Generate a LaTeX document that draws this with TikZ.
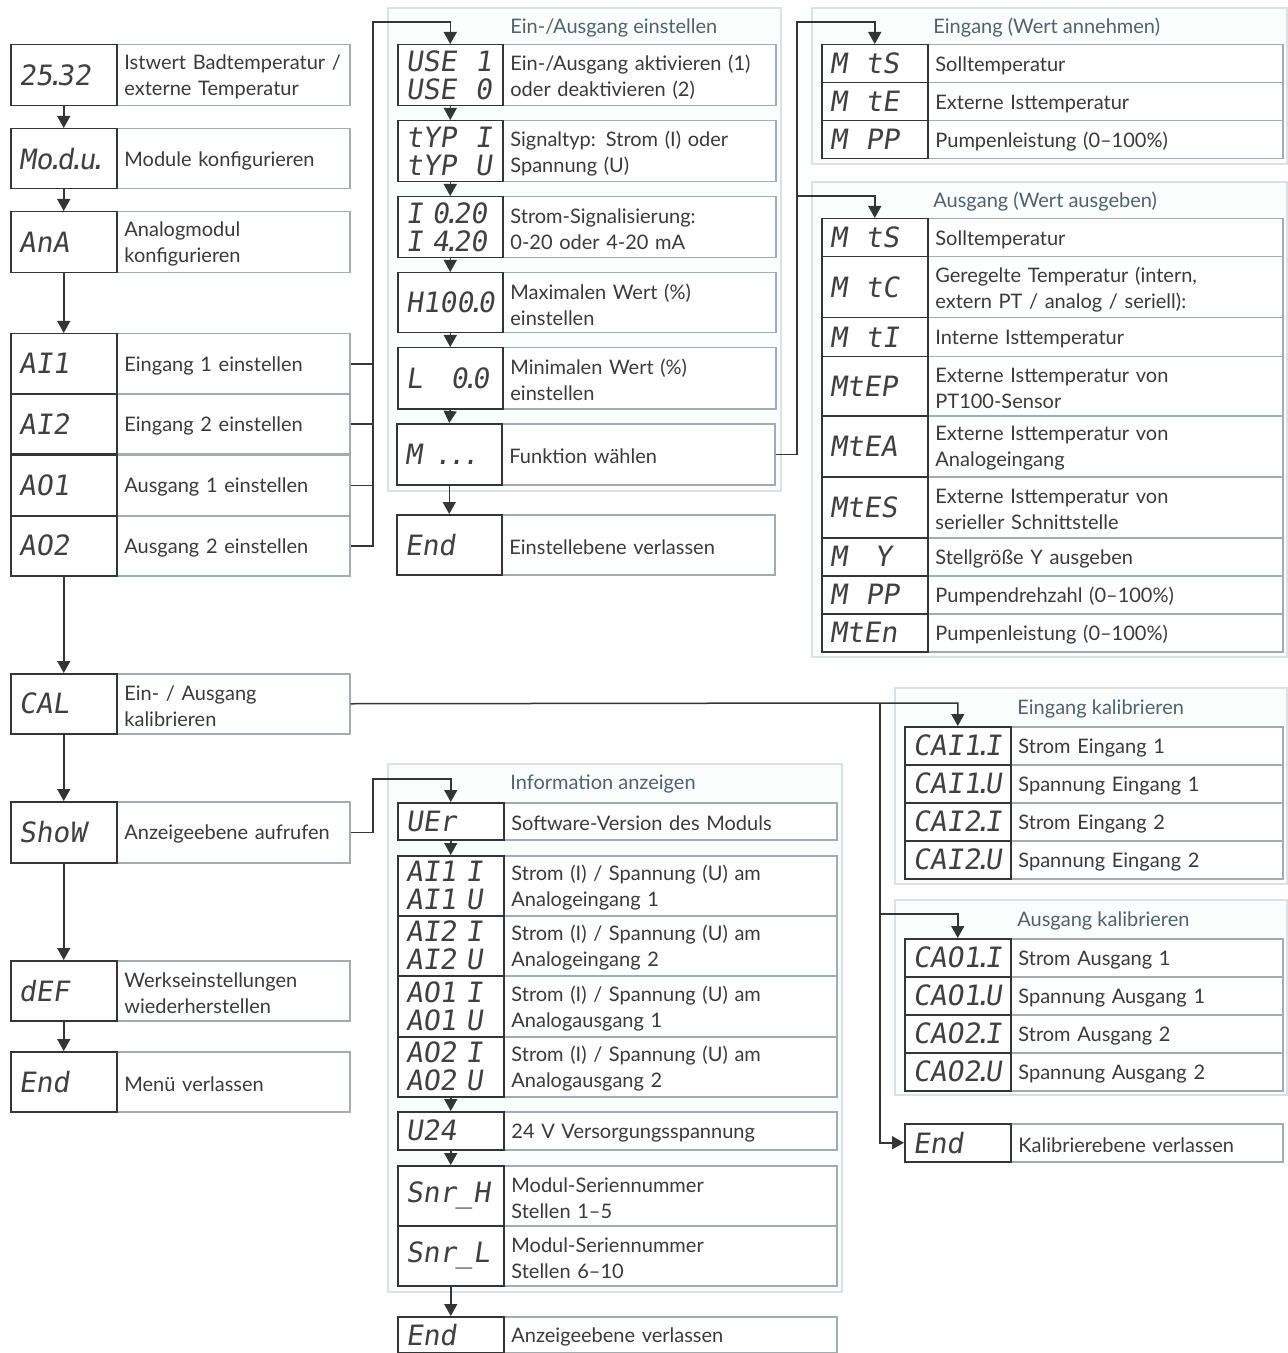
\documentclass[tikz,border=0pt]{standalone}
\usepackage{fontspec}
\setmainfont{Lato}
\newfontfamily\segf{DejaVu Sans Mono}[FakeSlant=0.15]
\usetikzlibrary{arrows.meta}
\definecolor{dark}{HTML}{353535}
\definecolor{segc}{HTML}{404040}
\definecolor{txt}{HTML}{3A3A3A}
\definecolor{greyb}{HTML}{A3ABB0}
\definecolor{ttl}{HTML}{52626C}
\definecolor{pline}{HTML}{DCE1E4}
\definecolor{pfill}{HTML}{FBFCFC}
\newcommand\dd{\kern-0.22em.\kern-0.22em}
\newcommand\bx[7]{%
  \pgfmathsetmacro\bxw{(#4-#2)*0.5-8}%
  \pgfmathsetmacro\bxh{(#5-#3)*0.5}%
  \node[#6, anchor=north west, text width=\bxw pt, minimum height=\bxh pt] (#1) at (#2,#3) {#7};}
\newcommand\dx[7]{%
  \pgfmathsetmacro\bxw{(#4-#2)*0.5}%
  \pgfmathsetmacro\bxh{(#5-#3)*0.5}%
  \pgfmathsetmacro\txw{(#4-#2)*0.5-8}%
  \node[descbox, anchor=north west, minimum width=\bxw pt, minimum height=\bxh pt] (#1) at (#2,#3) {};
  \node[desc, anchor=west, text width=\txw pt] (#1l) at ([yshift=-1pt]#1.west) {#7};}
\newcommand\rw[8]{\dx{#1t}{#3}{#5}{#4}{#6}{}{#8}\bx{#1}{#2}{#5}{#3}{#6}{disp}{#7}}
\begin{document}
\begin{tikzpicture}[x=0.5pt,y=-0.5pt,
  disp/.style={draw=dark, line width=0.75pt, fill=white, inner xsep=4pt, inner ysep=0pt, align=left,
    font=\segf\fontsize{14}{14}\selectfont, text=segc},
  descbox/.style={draw=greyb, line width=0.75pt, fill=white, inner sep=0pt},
  desc/.style={inner xsep=4pt, inner ysep=0pt, align=left,
    font=\fontsize{10}{13}\selectfont, text=txt},
  panel/.style={draw=pline, fill=pfill, line width=1pt},
  ttlst/.style={anchor=west, inner sep=0pt, text=ttl, font=\fontsize{10}{13}\selectfont},
  ln/.style={draw=dark, line width=0.75pt},
  arr/.style={draw=dark, line width=0.75pt, -{Triangle[width=6.5pt,length=6pt]}}]
\useasboundingbox (0,0) rectangle (1288,1353);
\fill[white] (0,0) rectangle (1288,1353);

% panels
\draw[panel] (388,8) rectangle (781,491);
\draw[panel] (812,8) rectangle (1287,164);
\draw[panel] (812,182) rectangle (1287,657);
\draw[panel] (895,688) rectangle (1287,884);
\draw[panel] (895,900) rectangle (1287,1095);
\draw[panel] (388,764) rectangle (842,1292);
\node[ttlst] (T1) at (510,28) {Ein-/Ausgang einstellen};
\node[ttlst] (T2) at (933,28) {Eingang (Wert annehmen)};
\node[ttlst] (T3) at (933,202) {Ausgang (Wert ausgeben)};
\node[ttlst] (T4) at (1017,709) {Eingang kalibrieren};
\node[ttlst] (T5) at (1017,921) {Ausgang kalibrieren};
\node[ttlst] (T6) at (510,784) {Information anzeigen};

% left column
\rw{L1}{10}{116}{349}{44}{105}{25\dd32}{Istwert Badtemperatur /\\externe Temperatur}
\rw{L2}{10}{116}{349}{128}{188}{Mo\dd d\dd u\dd}{Module konfigurieren}
\rw{L3}{10}{116}{349}{211}{272}{AnA}{Analogmodul\\konfigurieren}
\rw{L4}{10}{116}{349}{333}{393}{AI1}{Eingang 1 einstellen}
\rw{L5}{10}{116}{349}{393}{453}{AI2}{Eingang 2 einstellen}
\rw{L6}{10}{116}{349}{454}{515}{AO1}{Ausgang 1 einstellen}
\rw{L7}{10}{116}{349}{515}{575}{AO2}{Ausgang 2 einstellen}
\rw{L8}{10}{116}{349}{673}{733}{CAL}{Ein- / Ausgang\\kalibrieren}
\rw{L9}{10}{116}{349}{801}{862}{ShoW}{Anzeigeebene aufrufen}
\rw{L10}{10}{116}{349}{960}{1020}{dEF}{Werkseinstellungen\\wiederherstellen}
\rw{L11}{10}{116}{349}{1051}{1111}{End}{Menü verlassen}

% middle column
\rw{M1}{397}{502}{775}{44}{105}{USE~~1\\USE~~0}{Ein-/Ausgang aktivieren (1)\\oder deaktivieren (2)}
\rw{M2}{397}{502}{775}{120}{181}{tYP~~I\\tYP~~U}{Signaltyp: Strom (I) oder\\Spannung (U)}
\rw{M3}{397}{502}{775}{196}{257}{I~0\dd20\\I~4\dd20}{Strom-Signalisierung:\\0-20 oder 4-20 mA}
\rw{M4}{397}{502}{775}{272}{332}{H100\dd0}{Maximalen Wert (\%)\\einstellen}
\rw{M5}{397}{502}{775}{347}{408}{L~~~0\dd0}{Minimalen Wert (\%)\\einstellen}
\rw{M6}{396}{501}{774}{423}{484}{M~~\dd~\dd~\dd}{Funktion wählen}
\rw{M7}{396}{501}{774}{514}{574}{End}{Einstellebene verlassen}

% Eingang (Wert annehmen)
\rw{E1}{821}{927}{1282}{44}{82}{M~~tS}{Solltemperatur}
\rw{E2}{821}{927}{1282}{82}{120}{M~~tE}{Externe Isttemperatur}
\rw{E3}{821}{927}{1282}{120}{158}{M~~PP}{Pumpenleistung (0--100\%)}

% Ausgang (Wert ausgeben)
\rw{A1}{821}{927}{1282}{218}{256}{M~~tS}{Solltemperatur}
\rw{A2}{821}{927}{1282}{256}{317}{M~~tC}{Geregelte Temperatur (intern,\\extern PT / analog / seriell):}
\rw{A3}{821}{927}{1282}{317}{356}{M~~tI}{Interne Isttemperatur}
\rw{A4}{821}{927}{1282}{356}{415}{MtEP}{Externe Isttemperatur von\\PT100-Sensor}
\rw{A5}{821}{927}{1282}{415}{476}{MtEA}{Externe Isttemperatur von\\Analogeingang}
\rw{A6}{821}{927}{1282}{476}{537}{MtES}{Externe Isttemperatur von\\serieller Schnittstelle}
\rw{A7}{821}{927}{1282}{537}{575}{M~~~Y}{Stellgröße Y ausgeben}
\rw{A8}{821}{927}{1282}{575}{613}{M~~PP}{Pumpendrehzahl (0--100\%)}
\rw{A9}{821}{927}{1282}{613}{651}{MtEn}{Pumpenleistung (0--100\%)}

% Kalibrieren
\rw{C1}{904}{1010}{1282}{726}{764}{CAI1\dd I}{Strom Eingang 1}
\rw{C2}{904}{1010}{1282}{764}{802}{CAI1\dd U}{Spannung Eingang 1}
\rw{C3}{904}{1010}{1282}{802}{840}{CAI2\dd I}{Strom Eingang 2}
\rw{C4}{904}{1010}{1282}{840}{878}{CAI2\dd U}{Spannung Eingang 2}
\rw{C5}{904}{1010}{1282}{938}{976}{CAO1\dd I}{Strom Ausgang 1}
\rw{C6}{904}{1010}{1282}{976}{1014}{CAO1\dd U}{Spannung Ausgang 1}
\rw{C7}{904}{1010}{1282}{1014}{1052}{CAO2\dd I}{Strom Ausgang 2}
\rw{C8}{904}{1010}{1282}{1052}{1090}{CAO2\dd U}{Spannung Ausgang 2}
\rw{CE}{904}{1010}{1282}{1123}{1161}{End}{Kalibrierebene verlassen}

% Information anzeigen
\rw{I1}{397}{503}{836}{802}{839}{UEr}{Software-Version des Moduls}
\rw{I2}{397}{503}{836}{855}{915}{AI1~I\\AI1~U}{Strom (I) / Spannung (U) am\\Analogeingang 1}
\rw{I3}{397}{503}{836}{915}{975}{AI2~I\\AI2~U}{Strom (I) / Spannung (U) am\\Analogeingang 2}
\rw{I4}{397}{503}{836}{975}{1036}{AO1~I\\AO1~U}{Strom (I) / Spannung (U) am\\Analogausgang 1}
\rw{I5}{397}{503}{836}{1036}{1096}{AO2~I\\AO2~U}{Strom (I) / Spannung (U) am\\Analogausgang 2}
\rw{I6}{397}{503}{836}{1111}{1149}{U24}{24 V Versorgungsspannung}
\rw{I7}{397}{503}{836}{1165}{1225}{Snr\_H}{Modul-Seriennummer\\Stellen 1--5}
\rw{I8}{397}{503}{836}{1225}{1285}{Snr\_L}{Modul-Seriennummer\\Stellen 6--10}
\rw{IE}{397}{503}{836}{1316}{1352}{End}{Anzeigeebene verlassen}

% connectors: left column
\draw[arr] (L1.south) -- (L2.north);
\draw[arr] (L2.south) -- (L3.north);
\draw[arr] (L3.south) -- (L4.north);
\draw[arr] (L7.south) -- (L8.north);
\draw[arr] (L8.south) -- (L9.north);
\draw[arr] (L9.south) -- (L10.north);
\draw[arr] (L10.south) -- (L11.north);

% to Ein-/Ausgang einstellen
\coordinate (busA) at (373,22);
\draw[ln] (L4t.east) -- (L4t.east -| busA);
\draw[ln] (L5t.east) -- (L5t.east -| busA);
\draw[ln] (L6t.east) -- (L6t.east -| busA);
\draw[arr] (L7t.east) -- (L7t.east -| busA) -- (busA) -| (M1.north);

% middle column
\draw[arr] (M1.south) -- (M2.north);
\draw[arr] (M2.south) -- (M3.north);
\draw[arr] (M3.south) -- (M4.north);
\draw[arr] (M4.south) -- (M5.north);
\draw[arr] (M5.south) -- (M6.north);
\draw[arr] (M6.south) -- (M7.north);

% to functions
\coordinate (busB) at (797,22);
\coordinate (busBb) at (797,196);
\draw[arr] (M6t.east) -- (M6t.east -| busB) -- (busB) -| (E1.north);
\draw[arr] (busBb) -| (A1.north);

% calibration
\coordinate (busC) at (880,703);
\coordinate (busCb) at (880,914);
\draw[arr] (L8t.east) -- (busC) -| (C1.north);
\draw[arr] (busC) |- (CE.west);
\draw[arr] (busCb) -| (C5.north);

% information
\coordinate (busD) at (373,779);
\draw[arr] (L9t.east) -- (L9t.east -| busD) -- (busD) -| (I1.north);
\draw[arr] (I1.south) -- (I2.north);
\draw[arr] (I5.south) -- (I6.north);
\draw[arr] (I6.south) -- (I7.north);
\draw[arr] (I8.south) -- (IE.north);
\end{tikzpicture}
\end{document}
